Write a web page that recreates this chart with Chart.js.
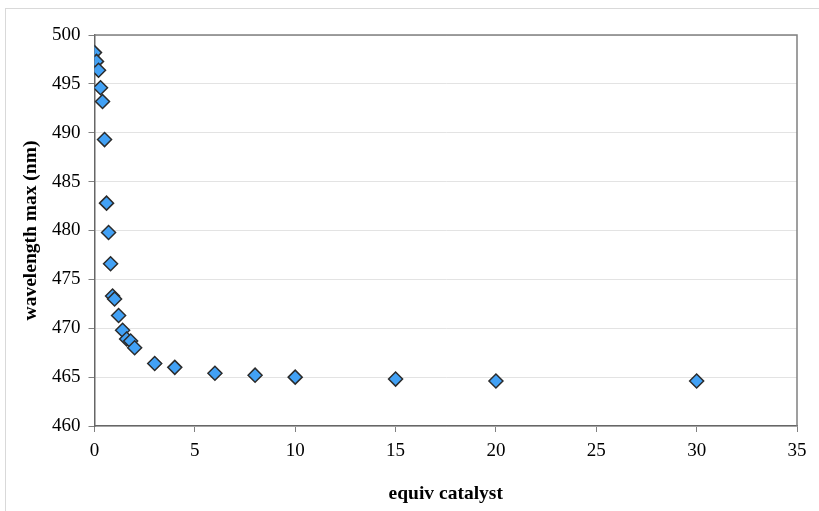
<!DOCTYPE html>
<html>
<head>
<meta charset="utf-8">
<script src="https://cdn.jsdelivr.net/npm/chart.js@4.4.1/dist/chart.umd.min.js"></script>
<style>
  html, body { margin: 0; padding: 0; background: #fff; }
  #wrap { width: 819px; height: 511px; }
</style>
</head>
<body>
<div id="wrap"><canvas id="chart" width="819" height="511"></canvas></div>
<script>
// equivalents of catalyst added
const equiv = [0, 0.1, 0.2, 0.3, 0.4, 0.5, 0.6, 0.7, 0.8, 0.9, 1.0, 1.2, 1.4, 1.6, 1.8, 2, 3, 4, 6, 8, 10, 15, 20, 30];
// absorption maximum (nm)
const lambdaMax = [498.2, 497.3, 496.4, 494.6, 493.2, 489.3, 482.8, 479.8, 476.6, 473.3, 473.0, 471.3, 469.8, 468.9, 468.7, 468.0, 466.4, 466.0, 465.4, 465.2, 465.0, 464.8, 464.6, 464.6];

const xTicks = [0, 5, 10, 15, 20, 25, 30, 35];
const yTicks = [460, 465, 470, 475, 480, 485, 490, 495, 500];

const points = equiv.map((x, i) => ({ x: x, y: lambdaMax[i] }));

// outer frame + box around plot area
const framePlugin = {
  id: 'frame',
  beforeDraw(chart) {
    const c = chart.ctx;
    c.save();
    c.fillStyle = '#fff';
    c.fillRect(0, 0, chart.width, chart.height);
    c.strokeStyle = '#d9d9d9';
    c.lineWidth = 1;
    c.strokeRect(5.5, 8.5, 1000, 1000);
    c.restore();
  },
  beforeDatasetsDraw(chart) {
    const a = chart.chartArea;
    const c = chart.ctx;
    c.save();
    c.strokeStyle = '#808080';
    c.lineWidth = 1.5;
    c.beginPath();
    c.moveTo(a.left, a.top);
    c.lineTo(a.right, a.top);
    c.lineTo(a.right, a.bottom);
    c.stroke();
    c.restore();
  }
};

const serif = '"Liberation Serif", "Times New Roman", serif';

new Chart(document.getElementById('chart'), {
  type: 'scatter',
  data: {
    datasets: [{
      data: points,
      pointStyle: 'rectRot',
      pointRadius: 7,
      pointHoverRadius: 7,
      backgroundColor: '#42a1f5',
      borderColor: '#2b2b2b',
      borderWidth: 1.5
    }]
  },
  options: {
    responsive: false,
    animation: false,
    layout: { padding: { left: 0, top: 35, right: 22, bottom: 0 } },
    plugins: {
      legend: { display: false },
      tooltip: { enabled: false }
    },
    scales: {
      x: {
        type: 'linear',
        min: 0,
        max: 35,
        afterBuildTicks(scale) {
          scale.ticks = xTicks.map(v => ({ value: v }));
        },
        afterFit(scale) { scale.height = 85; },
        grid: {
          drawOnChartArea: false,
          drawTicks: true,
          tickLength: 6,
          tickColor: '#808080'
        },
        border: { color: '#666', width: 1.5 },
        ticks: {
          color: '#000',
          padding: 8,
          maxRotation: 0,
          font: { family: serif, size: 19 }
        },
        title: {
          display: true,
          text: 'equiv catalyst',
          color: '#000',
          font: { family: serif, size: 19.5, weight: 'bold' },
          padding: { top: 0, bottom: 5 }
        }
      },
      y: {
        min: 460,
        max: 500,
        afterBuildTicks(scale) {
          scale.ticks = yTicks.map(v => ({ value: v }));
        },
        afterFit(scale) { scale.width = 94.5; },
        grid: {
          color: '#e3e3e3',
          lineWidth: 1,
          drawTicks: true,
          tickLength: 6,
          tickColor: '#808080'
        },
        border: { color: '#666', width: 1.5 },
        ticks: {
          color: '#000',
          padding: 8,
          font: { family: serif, size: 19 }
        },
        title: {
          display: true,
          text: 'wavelength max (nm)',
          color: '#000',
          font: { family: serif, size: 19.5, weight: 'bold' },
          padding: { top: 19, bottom: 0 }
        }
      }
    }
  },
  plugins: [framePlugin]
});
</script>
</body>
</html>
